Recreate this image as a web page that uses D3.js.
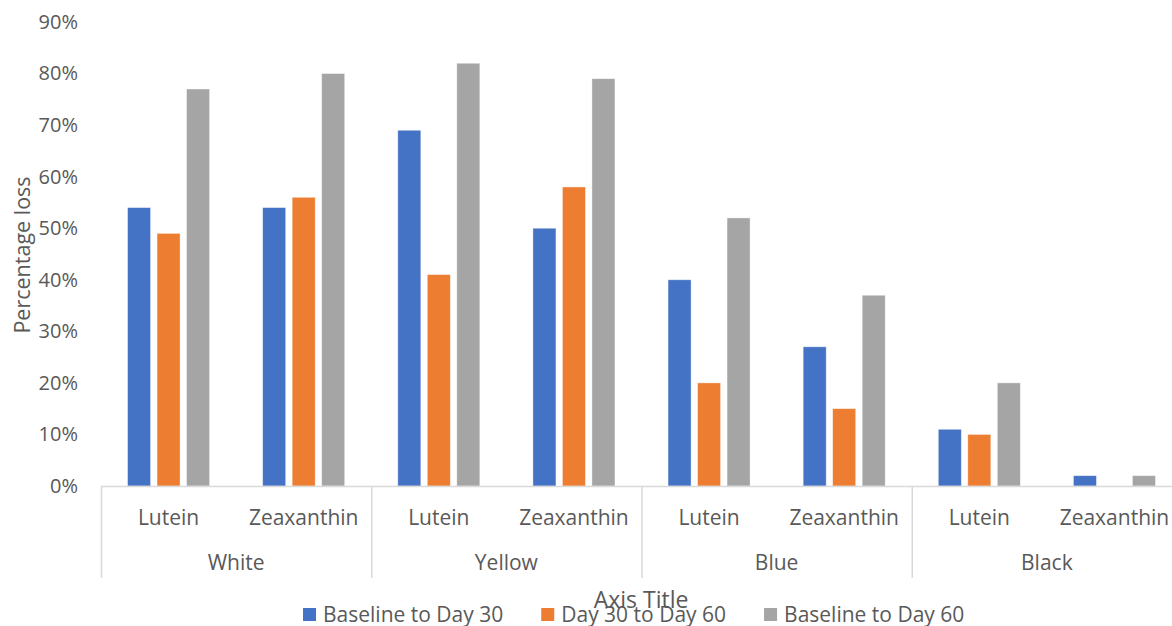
<!DOCTYPE html>
<html>
<head>
<meta charset="utf-8">
<script src="https://cdn.jsdelivr.net/npm/d3@7"></script>
<style>
  html, body { margin: 0; padding: 0; background: #fff; overflow: hidden; }
  svg { display: block; }
  text { font-family: "Open Sans", sans-serif; fill: #595959; }
</style>
</head>
<body>
<svg id="chart" width="1172" height="626"></svg>
<script>
const groups = ["White", "Yellow", "Blue", "Black"];
const pigments = ["Lutein", "Zeaxanthin"];
const seriesNames = ["Baseline to Day 30", "Day 30 to Day 60", "Baseline to Day 60"];
const seriesColors = ["#4472C4", "#ED7D31", "#A5A5A5"];
// values per leaf category (group × pigment), in percent
const baselineToDay30 = [54, 54, 69, 50, 40, 27, 11, 2];
const day30ToDay60   = [49, 56, 41, 58, 20, 15, 10, 0];
const baselineToDay60 = [77, 80, 82, 79, 52, 37, 20, 2];
const yTicks = [0, 0.1, 0.2, 0.3, 0.4, 0.5, 0.6, 0.7, 0.8, 0.9];
const yTitle = "Percentage loss";
const xTitle = "Axis Title";

const seriesValues = [baselineToDay30, day30ToDay60, baselineToDay60];
const leaves = [];
groups.forEach(g => pigments.forEach(p => leaves.push({ id: g + "|" + p, group: g, pigment: p })));

const svg = d3.select("#chart");
const plotLeft = 101, plotRight = 1182, plotTop = 22, plotBottom = 486;

const x0 = d3.scaleBand().domain(leaves.map(d => d.id)).range([plotLeft, plotRight]).paddingInner(0).paddingOuter(0);
const xg = d3.scaleBand().domain(groups).range([plotLeft, plotRight]).paddingInner(0).paddingOuter(0);
const x1 = d3.scaleBand().domain(seriesNames).range([0, x0.bandwidth()]).paddingInner(0.22).paddingOuter(0.9);
const y = d3.scaleLinear().domain([0, 0.9]).range([plotBottom, plotTop]);

// bars
const barData = [];
leaves.forEach((leaf, i) => {
  seriesNames.forEach((s, j) => {
    barData.push({ leaf: leaf.id, series: s, value: seriesValues[j][i] / 100, color: seriesColors[j] });
  });
});
svg.append("g").selectAll("rect").data(barData.filter(d => d.value > 0)).join("rect")
  .attr("x", d => x0(d.leaf) + x1(d.series))
  .attr("y", d => y(d.value))
  .attr("width", x1.bandwidth())
  .attr("height", d => y(0) - y(d.value))
  .attr("fill", d => d.color)
  .attr("stroke", "#ffffff")
  .attr("stroke-opacity", 0.5)
  .attr("stroke-width", 0.75);

// y axis
const yAxis = d3.axisLeft(y).tickValues(yTicks).tickFormat(d3.format(".0%")).tickSize(0).tickPadding(23);
const yg = svg.append("g").attr("transform", `translate(${plotLeft},0)`).call(yAxis);
yg.select(".domain").remove();
yg.selectAll("text").style("font-size", "20px").attr("fill", "#595959").style("font-family", "'Open Sans', sans-serif");

// x axis line
svg.append("line").attr("x1", plotLeft).attr("x2", plotRight).attr("y1", plotBottom + 0.5).attr("y2", plotBottom + 0.5)
  .attr("stroke", "#d9d9d9").attr("stroke-width", 1.5);

// group separators
const sepX = groups.map(g => xg(g)).concat([plotRight]);
svg.append("g").selectAll("line").data(sepX).join("line")
  .attr("x1", d => d + 0.5).attr("x2", d => d + 0.5)
  .attr("y1", plotBottom).attr("y2", 578)
  .attr("stroke", "#d9d9d9").attr("stroke-width", 1.5);

// pigment labels
svg.append("g").selectAll("text").data(leaves).join("text")
  .attr("x", d => x0(d.id) + x0.bandwidth() / 2)
  .attr("y", 518)
  .attr("dy", "0.35em")
  .attr("text-anchor", "middle")
  .style("font-size", "21px")
  .text(d => d.pigment);

// group labels
svg.append("g").selectAll("text").data(groups).join("text")
  .attr("x", d => xg(d) + xg.bandwidth() / 2)
  .attr("y", 563)
  .attr("dy", "0.35em")
  .attr("text-anchor", "middle")
  .style("font-size", "21px")
  .text(d => d);

// y title
svg.append("text")
  .attr("transform", "translate(22,255) rotate(-90)")
  .attr("dy", "0.35em")
  .attr("text-anchor", "middle")
  .style("font-size", "21.5px")
  .text(yTitle);

// x title
svg.append("text")
  .attr("x", 641).attr("y", 600).attr("dy", "0.35em")
  .attr("text-anchor", "middle")
  .style("font-size", "23px")
  .text(xTitle);

// legend
const legend = svg.append("g");
let lx = 303;
seriesNames.forEach((s, j) => {
  legend.append("rect").attr("x", lx).attr("y", 608).attr("width", 13).attr("height", 13).attr("fill", seriesColors[j]);
  const t = legend.append("text").attr("x", lx + 20).attr("y", 615).attr("dy", "0.35em")
    .style("font-size", "21px").text(s);
  lx += 20 + t.node().getComputedTextLength() + 38;
});
</script>
</body>
</html>
